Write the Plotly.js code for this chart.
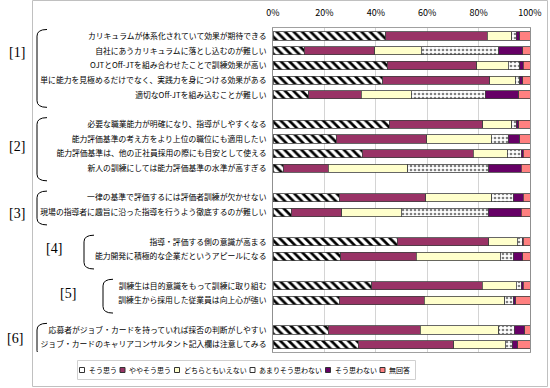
<!DOCTYPE html>
<html>
<head>
<meta charset="utf-8">
<script src="https://cdn.plot.ly/plotly-3.0.1.min.js"></script>
<style>html,body{margin:0;padding:0;background:#fff;}#chart{width:550px;height:388px;}</style>
</head>
<body>
<div id="chart"></div>
<script>
// ---- data ----
const categories = [
  'カリキュラムが体系化されていて効果が期待できる',
  '自社にあうカリキュラムに落とし込むのが難しい',
  'OJTとOff-JTを組み合わせたことで訓練効果が高い',
  '単に能力を見極めるだけでなく、実践力を身につける効果がある',
  '適切なOff-JTを組み込むことが難しい',
  '必要な職業能力が明確になり、指導がしやすくなる',
  '能力評価基準の考え方をより上位の職位にも適用したい',
  '能力評価基準は、他の正社員採用の際にも目安として使える',
  '新人の訓練にしては能力評価基準の水準が高すぎる',
  '一律の基準で評価するには評価者訓練が欠かせない',
  '現場の指導者に趣旨に沿った指導を行うよう徹底するのが難しい',
  '指導・評価する側の意識が高まる',
  '能力開発に積極的な企業だというアピールになる',
  '訓練生は目的意識をもって訓練に取り組む',
  '訓練生から採用した従業員は向上心が強い',
  '応募者がジョブ・カードを持っていれば採否の判断がしやすい',
  'ジョブ・カードのキャリアコンサルタント記入欄は注意してみる'
];
const groupLabels = ['[1]','[2]','[3]','[4]','[5]','[6]'];
const groupSizes = [5, 4, 2, 2, 2, 2];
const seriesNames = ['そう思う','ややそう思う','どちらともいえない','あまりそう思わない','そう思わない','無回答'];
const souOmou      = [43.8,12.2,44.5,42.7,14.0,45.3,24.6,34.8, 4.0,25.8, 7.1,48.4,26.3,38.4,25.8,21.5,33.2];
const yayaSouOmou  = [39.5,27.4,34.7,41.7,20.4,36.3,35.3,43.1,17.5,33.7,19.6,35.5,29.5,43.1,33.0,35.7,37.1];
const dochiraTomo  = [ 9.6,18.1,12.4, 9.9,19.4,11.3,25.1,13.3,30.9,25.6,23.2,11.2,32.7,13.2,31.4,30.6,20.0];
const amariOmowanai= [ 1.7,30.1, 4.5, 1.7,28.8, 1.7, 6.6, 5.3,31.6, 8.4,33.9, 1.9, 5.0, 1.9, 3.3, 6.0, 2.8];
const souOmowanai  = [ 1.4, 9.4, 1.3, 1.2,13.1, 1.1, 4.4, 0.9,12.6, 3.8,12.7, 0.4, 3.7, 0.8, 0.9, 4.1, 2.2];
const mukaitou     = [ 4.0, 2.8, 2.6, 2.8, 4.3, 4.3, 4.0, 2.6, 3.4, 2.7, 3.5, 2.6, 2.8, 2.6, 5.6, 2.1, 4.7];
const xTicks = [0, 20, 40, 60, 80, 100];

// ---- layout helpers ----
const L = 273, R = 530, T = 28, B = 352;
const pxX = x => (x - L) / (R - L);
const pxY = y => (B - y) / (B - T);
const JP = '"Noto Sans CJK JP", sans-serif';

// category slots with a blank slot between groups
const yPos = [];
const groupRange = [];
let slot = 0;
groupSizes.forEach(n => {
  const first = slot;
  for (let k = 0; k < n; k++) yPos.push(slot++);
  groupRange.push([first, slot - 1]);
  slot++;
});

const seriesValues = [souOmou, yayaSouOmou, dochiraTomo, amariOmowanai, souOmowanai, mukaitou];
const styles = [
  {color: '#ffffff', pattern: {shape: '\\', fgcolor: '#000000', bgcolor: '#ffffff', size: 6, solidity: 0.45}, sym: '#ffffff'},
  {color: '#993366', sym: '#993366'},
  {color: '#ffffcc', sym: '#ffffcc'},
  {color: '#ffffff', pattern: {shape: '.', fgcolor: '#808080', bgcolor: '#ffffff', size: 4, solidity: 0.35}, sym: '#ffffff'},
  {color: '#660066', sym: '#660066'},
  {color: '#ff8080', sym: '#ff8080'}
];

const traces = seriesValues.map((vals, i) => {
  const marker = {color: styles[i].color, line: {color: '#404040', width: 0.8}};
  if (styles[i].pattern) marker.pattern = styles[i].pattern;
  return {
    type: 'bar', orientation: 'h', name: seriesNames[i],
    x: vals, y: yPos, width: 0.56, marker: marker,
    showlegend: false, hoverinfo: 'x+name'
  };
});

const shapes = [];
const annotations = [];

// outer frame
shapes.push({type: 'rect', xref: 'paper', yref: 'paper', x0: pxX(32.5), x1: pxX(547.5), y0: pxY(0.5), y1: pxY(386.5),
  line: {color: '#c0c0c0', width: 1}, fillcolor: 'rgba(0,0,0,0)', layer: 'below'});

// brackets and group labels
const bracketX = [37, 37, 37, 84, 103, 37];
const labelPos = [[17, 52], [17, 146], [17, 213], [54, 248], [68, 293], [15, 338]];
groupRange.forEach((g, i) => {
  const x0 = pxX(bracketX[i]), x1 = pxX(bracketX[i] + 10);
  const top = g[0] - 0.45, bot = g[1] + 0.85;
  const c = 0.45;
  shapes.push({type: 'path', xref: 'paper', yref: 'y',
    path: `M ${x1},${top} Q ${x0},${top} ${x0},${top + c} L ${x0},${bot - c} Q ${x0},${bot} ${x1},${bot}`,
    line: {color: '#000000', width: 1}});
  annotations.push({xref: 'paper', yref: 'paper', x: pxX(labelPos[i][0]), y: pxY(labelPos[i][1]),
    text: groupLabels[i], showarrow: false, xanchor: 'center', yanchor: 'middle',
    font: {family: '"Liberation Serif", serif', size: 14, color: '#000'}});
});

// custom legend
const legFont = 7;
shapes.push({type: 'rect', xref: 'paper', yref: 'paper', x0: pxX(77.5), x1: pxX(415.5), y0: pxY(360.5), y1: pxY(379.5),
  line: {color: '#d0d0d0', width: 1}, fillcolor: '#ffffff'});
let lx = 82;
seriesNames.forEach((nm, i) => {
  shapes.push({type: 'rect', xref: 'paper', yref: 'paper', x0: pxX(lx - 2.5), x1: pxX(lx + 2.5), y0: pxY(372.5), y1: pxY(367.5),
    line: {color: '#333333', width: 1}, fillcolor: styles[i].sym});
  annotations.push({xref: 'paper', yref: 'paper', x: pxX(lx + 4.5), y: pxY(370), text: nm, showarrow: false,
    xanchor: 'left', yanchor: 'middle', font: {family: JP, size: legFont, color: '#000'}});
  lx += 4.5 + nm.length * legFont + 8;
});

const layout = {
  width: 550, height: 388,
  margin: {l: L, r: 550 - R, t: T, b: 388 - B, pad: 0},
  paper_bgcolor: '#ffffff', plot_bgcolor: '#ffffff',
  barmode: 'stack', bargap: 0,
  showlegend: false,
  xaxis: {
    side: 'top', range: [0, 100], tickvals: xTicks, ticktext: xTicks.map(v => v + '%'),
    tickfont: {family: JP, size: 9, color: '#000'}, ticks: '', ticklabelstandoff: 7,
    showgrid: true, gridcolor: '#d4d4d4', gridwidth: 1, zeroline: false,
    showline: true, mirror: true, linecolor: '#a0a0a0', linewidth: 1, fixedrange: true
  },
  yaxis: {
    range: [21.5, -0.55], tickvals: yPos, ticktext: categories,
    tickfont: {family: JP, size: 7.8, color: '#000'}, ticks: '', ticklabelstandoff: 4,
    showgrid: false, zeroline: false,
    showline: true, mirror: true, linecolor: '#909090', linewidth: 1, fixedrange: true
  },
  shapes: shapes,
  annotations: annotations
};

Plotly.newPlot('chart', traces, layout, {displayModeBar: false, staticPlot: true});
</script>
</body>
</html>
